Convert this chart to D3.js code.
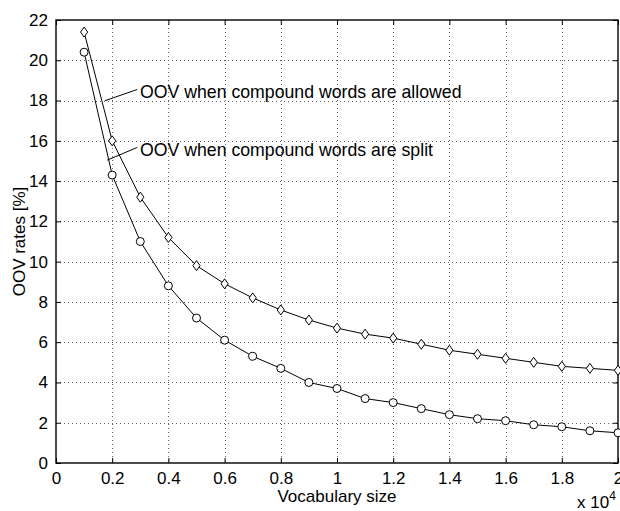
<html>
<head>
    <meta charset="utf-8">
    <title>OOV rates</title>
</head>
<style>
    body { margin: 0; background: #fff; }
    text { font-family: "Liberation Sans", Arial, Helvetica, sans-serif; fill: #000; }
    .tick-label { font-size: 17px; }
    .axis-label { font-size: 17px; }
    .note { font-size: 17.7px; }
</style>
<body>
<script src="https://cdn.jsdelivr.net/npm/d3@7"></script>
<script>
    var width = 620;
    var height = 511;

    // vocabulary size, in units of 10^4
    var vocab = [0.1, 0.2, 0.3, 0.4, 0.5, 0.6, 0.7, 0.8, 0.9, 1.0,
                 1.1, 1.2, 1.3, 1.4, 1.5, 1.6, 1.7, 1.8, 1.9, 2.0];
    // OOV when compound words are allowed (diamonds)
    var oovAllowed = [21.4, 16.0, 13.2, 11.2, 9.8, 8.9, 8.2, 7.6, 7.1, 6.7,
                      6.4, 6.2, 5.9, 5.6, 5.4, 5.2, 5.0, 4.8, 4.7, 4.6];
    // OOV when compound words are split (circles)
    var oovSplit = [20.4, 14.3, 11.0, 8.8, 7.2, 6.1, 5.3, 4.7, 4.0, 3.7,
                    3.2, 3.0, 2.7, 2.4, 2.2, 2.1, 1.9, 1.8, 1.6, 1.5];

    var xTicks = [0, 0.2, 0.4, 0.6, 0.8, 1, 1.2, 1.4, 1.6, 1.8, 2];
    var yTicks = [0, 2, 4, 6, 8, 10, 12, 14, 16, 18, 20, 22];

    // text labels in data units, pointer line from/to
    var notes = [
        {text: "OOV when compound words are allowed", x: 0.299, y: 18.15, from: [0.174, 17.99], to: [0.289, 18.55]},
        {text: "OOV when compound words are split", x: 0.299, y: 15.24, from: [0.182, 15.04], to: [0.289, 15.67]}
    ];

    var pL = 56, pR = 618, pT = 20, pB = 463;

    var svg = d3.select("body").append("svg")
            .attr("width", width)
            .attr("height", height);

    var x = d3.scaleLinear().domain([0, 2]).range([pL, pR]);
    var y = d3.scaleLinear().domain([0, 22]).range([pB, pT]);

    // dotted grid
    var grid = svg.append("g")
            .attr("stroke", "#000")
            .attr("stroke-width", 1)
            .attr("stroke-dasharray", "1,3")
            .attr("opacity", 0.6);
    grid.selectAll(".gx")
            .data(xTicks.slice(1, -1))
            .enter()
            .append("line")
            .attr("x1", function (d) { return Math.round(x(d)) + 0.5; })
            .attr("x2", function (d) { return Math.round(x(d)) + 0.5; })
            .attr("y1", pT)
            .attr("y2", pB);
    grid.selectAll(".gy")
            .data(yTicks.slice(1, -1))
            .enter()
            .append("line")
            .attr("y1", function (d) { return Math.round(y(d)) + 0.5; })
            .attr("y2", function (d) { return Math.round(y(d)) + 0.5; })
            .attr("x1", pL)
            .attr("x2", pR);

    // axes, ticks pointing inward, box on all sides
    var tickLen = 5;
    var xAxis = d3.axisBottom(x).tickValues(xTicks).tickSize(-tickLen).tickPadding(9)
            .tickFormat(function (d) { return d3.format("")(d); });
    var yAxis = d3.axisLeft(y).tickValues(yTicks).tickSize(-tickLen).tickPadding(8);

    var gx = svg.append("g").attr("transform", "translate(0," + pB + ")").call(xAxis);
    var gy = svg.append("g").attr("transform", "translate(" + pL + ",0)").call(yAxis);
    svg.append("g").attr("transform", "translate(0," + pT + ")")
            .call(d3.axisTop(x).tickValues(xTicks).tickSize(-tickLen).tickFormat(""));
    svg.append("g").attr("transform", "translate(" + pR + ",0)")
            .call(d3.axisRight(y).tickValues(yTicks).tickSize(-tickLen).tickFormat(""));

    svg.selectAll(".domain").remove();
    svg.selectAll(".tick line").attr("stroke", "#000").attr("stroke-width", 1);
    svg.selectAll("g").attr("font-family", null).attr("font-size", null);
    svg.selectAll(".tick text").attr("class", "tick-label");

    svg.append("rect")
            .attr("x", pL)
            .attr("y", pT)
            .attr("width", pR - pL)
            .attr("height", pB - pT)
            .attr("fill", "none")
            .attr("stroke", "#000")
            .attr("stroke-width", 1.4);

    // series lines
    var line = d3.line()
            .x(function (d) { return x(d[0]); })
            .y(function (d) { return y(d[1]); });

    var seriesA = vocab.map(function (v, i) { return [v, oovAllowed[i]]; });
    var seriesB = vocab.map(function (v, i) { return [v, oovSplit[i]]; });

    [seriesA, seriesB].forEach(function (s) {
        svg.append("path")
                .datum(s)
                .attr("d", line)
                .attr("fill", "none")
                .attr("stroke", "#000")
                .attr("stroke-width", 1);
    });

    // diamond markers
    svg.selectAll(".diamond")
            .data(seriesA)
            .enter()
            .append("path")
            .attr("class", "diamond")
            .attr("d", "M0,-5L3.6,0L0,5L-3.6,0Z")
            .attr("transform", function (d) { return "translate(" + x(d[0]) + "," + y(d[1]) + ")"; })
            .attr("fill", "#fff")
            .attr("stroke", "#000")
            .attr("stroke-width", 1);

    // circle markers
    svg.selectAll(".circ")
            .data(seriesB)
            .enter()
            .append("circle")
            .attr("class", "circ")
            .attr("cx", function (d) { return x(d[0]); })
            .attr("cy", function (d) { return y(d[1]); })
            .attr("r", 4)
            .attr("fill", "#fff")
            .attr("stroke", "#000")
            .attr("stroke-width", 1);

    // annotations
    notes.forEach(function (n) {
        svg.append("line")
                .attr("x1", x(n.from[0]))
                .attr("y1", y(n.from[1]))
                .attr("x2", x(n.to[0]))
                .attr("y2", y(n.to[1]))
                .attr("stroke", "#000")
                .attr("stroke-width", 1);
        svg.append("text")
                .attr("class", "note")
                .attr("x", x(n.x))
                .attr("y", y(n.y))
                .text(n.text);
    });

    // axis titles
    svg.append("text")
            .attr("class", "axis-label")
            .attr("x", x(1))
            .attr("y", 502)
            .attr("text-anchor", "middle")
            .text("Vocabulary size");

    svg.append("text")
            .attr("class", "axis-label")
            .attr("transform", "translate(25," + ((pT + pB) / 2) + ") rotate(-90)")
            .attr("text-anchor", "middle")
            .text("OOV rates [%]");

    var mult = svg.append("text")
            .attr("class", "axis-label")
            .attr("x", 577)
            .attr("y", 508);
    mult.append("tspan").text("x 10");
    mult.append("tspan").attr("dy", -8).attr("font-size", "12px").text("4");
</script>

</body>
</html>
